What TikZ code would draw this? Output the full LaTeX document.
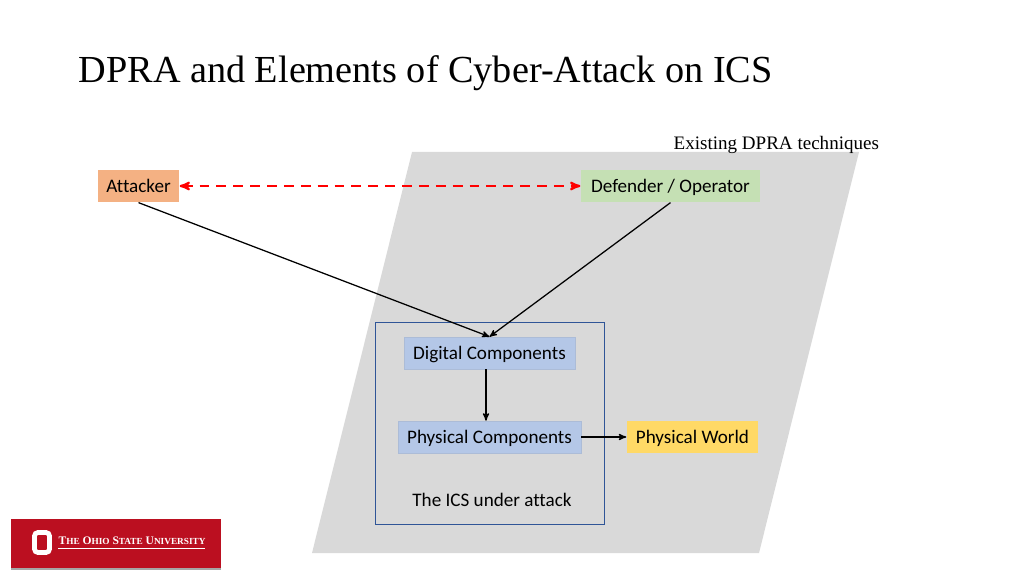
\documentclass[tikz,border=0pt]{standalone}
\usepackage{fontspec}
\setmainfont{Liberation Serif}
\newfontfamily\labelfont[Ligatures=NoCommon]{Carlito}
\usepackage{xcolor}
\definecolor{myorange}{HTML}{F4B183}
\definecolor{mygreen}{HTML}{C5E0B4}
\definecolor{myblue}{HTML}{B4C7E7}
\definecolor{myyellow}{HTML}{FFD966}
\definecolor{mygray}{HTML}{D9D9D9}
\definecolor{myframe}{HTML}{2F5597}
\definecolor{myred}{HTML}{BB0F20}
\usetikzlibrary{positioning}
\usetikzlibrary{arrows}
\usetikzlibrary{arrows.meta}
\tikzset{main node/.style={rectangle,minimum height=32*0.025cm,inner sep=0pt,text height=11pt,text depth=2.4pt,font=\labelfont\fontsize{13.6}{16}\selectfont},
	plain text/.style={inner sep=0pt,text height=11pt,text depth=2.4pt,font=\labelfont\fontsize{13.6}{16}\selectfont},
	blue node/.style={main node,fill=myblue,draw=myblue!85!gray,line width=0.4pt},}

\begin{document}
\begin{tikzpicture}[x=0.025cm,y=-0.025cm,->,>=stealth',line width=0.9pt]
	\useasboundingbox (0,0) rectangle (1024,576);
	\fill[mygray,draw=none] (412,152) -- (859,152) -- (759,553) -- (312,553) -- cycle;

	\node[inner sep=0pt,anchor=west,font=\fontsize{27.2}{32}\selectfont] (title) at (78,73) {DPRA and Elements of Cyber-Attack on ICS};
	\node[inner sep=0pt,anchor=west,font=\fontsize{13.55}{17}\selectfont] (existing) at (673,145) {Existing DPRA techniques};

	\node[draw=myframe,line width=0.7pt,minimum width=229*0.025cm,minimum height=202*0.025cm,inner sep=0pt] (ics) at (489.5,423) {};
	\node[main node, fill=myorange, minimum width=81*0.025cm] (attacker) at (138.5,186) {Attacker};
	\node[main node, fill=mygreen, minimum width=179*0.025cm] (defender) at (670.5,186) {Defender / Operator};
	\node[blue node, minimum width=171*0.025cm] (digital) at (489.5,353) {Digital Components};
	\node[blue node, minimum width=183*0.025cm] (physical) at (489.5,437) {Physical Components};
	\node[main node, fill=myyellow, minimum width=131*0.025cm] (world) [right = 45*0.025cm of physical] {Physical World};
	\node[plain text] (under) at (492,500) {The ICS under attack};

	% logo
	\fill[black!35,draw=none] (11,521) rectangle (221,569.5);
	\node[fill=myred,minimum width=210*0.025cm,minimum height=49*0.025cm,inner sep=0pt] (logo) at (116,543.5) {};
	\node[draw=white,rounded corners=2.5pt,line width=3.4pt,minimum width=15*0.025cm,minimum height=20*0.025cm,inner sep=0pt] (block) at (42,542.5) {};
	\node[inner sep=0pt,anchor=west,text=white,font=\fontsize{8.2}{9}\bfseries\selectfont] (osu) at (58,540.5)
		{T{\fontsize{6.6}{9}\selectfont HE} O{\fontsize{6.6}{9}\selectfont HIO} S{\fontsize{6.6}{9}\selectfont TATE} U{\fontsize{6.6}{9}\selectfont NIVERSITY}};
	\coordinate (ruleleft) at (58,548.5);
	\coordinate (ruleright) at (205,548.5);
	\draw[-,white,line width=0.5pt] (ruleleft) -- (ruleright);

	\draw[red,line width=1.5pt,dash pattern=on 7pt off 5pt,<->] (attacker) -- (defender);
	\draw[black] (attacker.south) -- (digital.north);
	\draw[black] (defender.south) -- (digital.north);
	\draw[black] ([xshift=-3.5*0.025cm]digital.south) -- ([xshift=-3.5*0.025cm]physical.north);
	\draw[black] (physical) -- (world);
\end{tikzpicture}
\end{document}
